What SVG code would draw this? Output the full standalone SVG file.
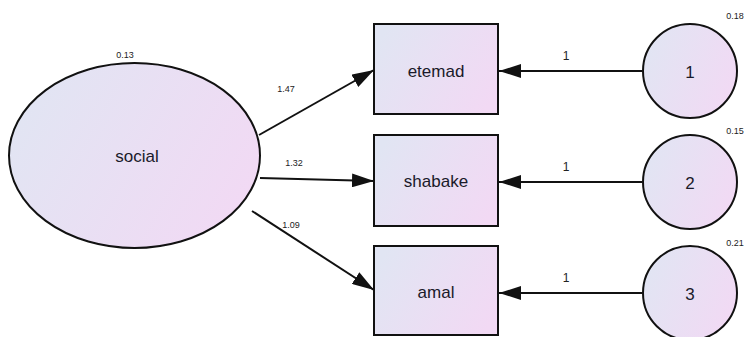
<svg xmlns="http://www.w3.org/2000/svg" width="745" height="337" viewBox="0 0 745 337">
<style>
.shape{stroke:#111;stroke-width:2;fill:url(#g)}
.lbl{font-family:"Liberation Sans",Arial,sans-serif;font-size:17px;fill:#1a1a2a;text-anchor:middle;dominant-baseline:central}
.sm{font-family:"Liberation Sans",Arial,sans-serif;font-size:9px;fill:#222;text-anchor:middle}
.one{font-family:"Liberation Sans",Arial,sans-serif;font-size:12px;fill:#222;text-anchor:middle}
.conn{stroke:#111;stroke-width:2;fill:none;marker-end:url(#ah)}
</style>
<defs>
<linearGradient id="g" x1="0" y1="0.3" x2="1" y2="0.7">
<stop offset="0" stop-color="#e1e5f3"/>
<stop offset="1" stop-color="#f2d9f4"/>
</linearGradient>
<marker id="ah" viewBox="0 0 22 14" refX="22" refY="7" markerWidth="22" markerHeight="14" markerUnits="userSpaceOnUse" orient="auto">
<path d="M0,0 L22,7 L0,14 Z" fill="#111"/>
</marker>
</defs>
<rect width="745" height="337" fill="#fff"/>
<g id="connectors">
<line class="conn" x1="259" y1="135" x2="374" y2="70"/>
<line class="conn" x1="260" y1="178" x2="374" y2="181"/>
<line class="conn" x1="252" y1="211" x2="374" y2="290"/>
<line class="conn" x1="642" y1="71" x2="499" y2="71"/>
<line class="conn" x1="642" y1="182" x2="499" y2="182"/>
<line class="conn" x1="642" y1="293" x2="499" y2="293"/>
<text class="sm" x="286" y="92">1.47</text>
<text class="sm" x="294" y="166">1.32</text>
<text class="sm" x="291" y="228">1.09</text>
<text class="one" x="566" y="60">1</text>
<text class="one" x="566" y="171">1</text>
<text class="one" x="566" y="282">1</text>
</g>
<g id="social">
<ellipse class="shape" cx="134.5" cy="155.5" rx="125.5" ry="92.5"/>
<text class="lbl" x="137" y="156">social</text>
<text class="sm" x="125" y="58">0.13</text>
</g>
<g id="etemad">
<rect class="shape" x="374" y="24" width="124" height="90"/>
<text class="lbl" x="436" y="71">etemad</text>
</g>
<g id="shabake">
<rect class="shape" x="374" y="135" width="124" height="91"/>
<text class="lbl" x="436" y="181">shabake</text>
</g>
<g id="amal">
<rect class="shape" x="374" y="246" width="124" height="89"/>
<text class="lbl" x="436" y="292">amal</text>
</g>
<g id="e1">
<circle class="shape" cx="690" cy="71" r="47"/>
<text class="lbl" x="690" y="72">1</text>
<text class="sm" x="735" y="19">0.18</text>
</g>
<g id="e2">
<circle class="shape" cx="690" cy="182" r="47"/>
<text class="lbl" x="690" y="183">2</text>
<text class="sm" x="735" y="134">0.15</text>
</g>
<g id="e3">
<circle class="shape" cx="690" cy="293" r="47"/>
<text class="lbl" x="690" y="294">3</text>
<text class="sm" x="735" y="246">0.21</text>
</g>
</svg>
